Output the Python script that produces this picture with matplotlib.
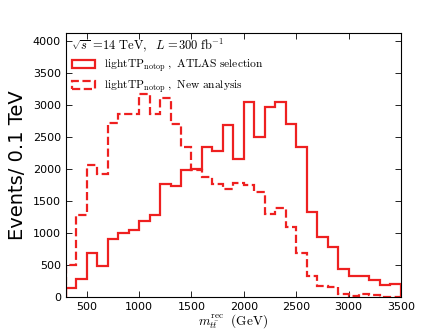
import matplotlib
matplotlib.use("Agg")
import matplotlib.pyplot as plt
import numpy as np

# bin edges in GeV (100 GeV bins)
edges = np.arange(300, 3600, 100)

# lightTP_notop, ATLAS selection (solid)
atlas_sel = [150, 290, 695, 495, 915, 995, 1055, 1195, 1285, 1760, 1740,
             1990, 1995, 2345, 2275, 2680, 2160, 3050, 2500, 2965, 3050,
             2700, 2350, 1335, 940, 790, 440, 325, 325, 275, 195, 205]

# lightTP_notop, New analysis (dashed)
new_ana = [510, 1285, 2070, 1915, 2715, 2855, 2855, 3170, 2855, 3100, 2700,
           2345, 1990, 1875, 1770, 1685, 1785, 1755, 1640, 1300, 1390,
           1100, 695, 325, 180, 160, 55, 25, 50, 30, 10, 10]

RED = "#ee2020"

plt.rcParams["mathtext.fontset"] = "cm"

fig = plt.figure(figsize=(4.43, 3.32), dpi=100)
ax = fig.add_axes([0.1485, 0.1045, 0.7565, 0.796])

ax.hist(edges[:-1], bins=edges, weights=atlas_sel, histtype="step",
        color=RED, lw=1.6, linestyle="-",
        label=r"$\mathrm{lightTP_{notop}}\ \mathrm{,\ ATLAS\ selection}$")
ax.hist(edges[:-1], bins=edges, weights=new_ana, histtype="step",
        color=RED, lw=1.6, linestyle="--",
        label=r"$\mathrm{lightTP_{notop}}\ \mathrm{,\ New\ analysis}$")

ax.set_xlim(300, 3500)
ax.set_ylim(0, 4120)
ax.set_xticks(np.arange(500, 3501, 500))
ax.set_yticks(np.arange(0, 4001, 500))
ax.tick_params(direction="in", top=True, right=True, labelsize=8,
               length=4, width=0.6)

ax.set_ylabel("Events/ 0.1 TeV", fontsize=14)
ax.set_xlabel(r"$m_{t\bar{t}}^{\mathrm{rec}}\ \ \mathrm{(GeV)}$", fontsize=9.5,
              labelpad=0)

ax.text(0.015, 0.955, r"$\sqrt{s}\,=\!14\ \mathrm{TeV},\ \ L\,=\!300\ \mathrm{fb}^{-1}$",
        transform=ax.transAxes, fontsize=9, va="center", ha="left")

ax.legend(loc="upper left", bbox_to_anchor=(0.005, 0.925), frameon=False,
          fontsize=8.3, handlelength=2.0, handletextpad=0.8,
          labelspacing=0.4, borderaxespad=0.0)

fig.savefig("out.png", dpi=100)
